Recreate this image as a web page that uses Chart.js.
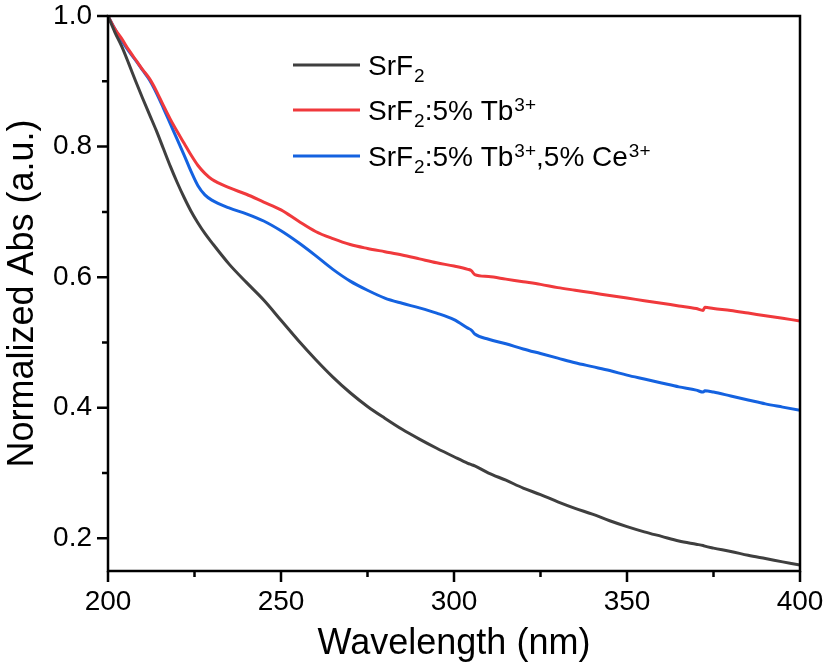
<!DOCTYPE html>
<html><head><meta charset="utf-8">
<script src="https://cdn.jsdelivr.net/npm/chart.js@4.4.1/dist/chart.umd.min.js"></script>
<style>html,body{margin:0;padding:0;background:#fff}#wrap{width:827px;height:666px;position:relative}</style>
</head><body><div id="wrap"><canvas id="c"></canvas></div>
<script>
const wavelengths=[200,202,204,206,208,210,212,214,216,218,220,222,224,226,228,230,235,240,245,250,255,260,265,270,275,280,285,290,295,300,304,305,306,310,315,320,325,330,335,340,345,350,355,360,365,370,372,372.5,375,380,385,390,395,400];
const srf2=[1.0,0.975,0.953,0.927,0.900,0.874,0.849,0.824,0.797,0.770,0.745,0.722,0.701,0.683,0.667,0.653,0.620,0.592,0.565,0.534,0.503,0.474,0.447,0.423,0.402,0.384,0.367,0.352,0.338,0.325,0.315,0.313,0.311,0.3,0.289,0.277,0.267,0.256,0.246,0.237,0.227,0.218,0.21,0.203,0.196,0.191,0.189,0.188,0.185,0.18,0.174,0.169,0.164,0.159];
const srf2Tb=[1.0,0.98,0.965,0.948,0.933,0.918,0.904,0.885,0.863,0.842,0.823,0.805,0.787,0.771,0.759,0.750,0.737,0.727,0.715,0.703,0.686,0.670,0.659,0.650,0.644,0.639,0.634,0.628,0.622,0.617,0.612,0.61,0.604,0.601,0.597,0.593,0.589,0.584,0.58,0.576,0.572,0.568,0.564,0.56,0.556,0.552,0.549,0.554,0.552,0.549,0.545,0.541,0.537,0.533];
const srf2TbCe=[1.0,0.98,0.962,0.946,0.932,0.917,0.902,0.882,0.859,0.835,0.811,0.787,0.762,0.740,0.726,0.718,0.706,0.697,0.686,0.671,0.653,0.633,0.612,0.594,0.580,0.568,0.560,0.553,0.545,0.535,0.522,0.519,0.513,0.505,0.498,0.49,0.483,0.476,0.469,0.463,0.457,0.45,0.444,0.438,0.432,0.427,0.424,0.426,0.424,0.418,0.412,0.406,0.401,0.396];
const seriesLabels=["SrF2","SrF2:5% Tb3+","SrF2:5% Tb3+,5% Ce3+"];
const legendParts=[
  [["SrF","n"],["2","sub"]],
  [["SrF","n"],["2","sub"],[":5% Tb","n"],["3+","sup"]],
  [["SrF","n"],["2","sub"],[":5% Tb","n"],["3+","sup"],[",5% Ce","n"],["3+","sup"]]
];
const seriesColors=["#3f3f3f","#f0393c","#1462e0"];
const xMajor=[200,250,300,350,400];
const xMinor=[225,275,325,375];
const yMajor=[0.2,0.4,0.6,0.8,1.0];
const yMinor=[0.3,0.5,0.7,0.9];
const xTitle="Wavelength (nm)";
const yTitle="Normalized Abs (a.u.)";

const FONT="'Liberation Sans', Arial, sans-serif";
const series=[srf2,srf2Tb,srf2TbCe];
const datasets=series.map((s,i)=>({
  label:seriesLabels[i],
  data:wavelengths.map((w,j)=>({x:w,y:s[j]})),
  borderColor:seriesColors[i],
  backgroundColor:seriesColors[i],
  borderWidth:3,pointRadius:0,showLine:true,tension:0.3,cubicInterpolationMode:'monotone',fill:false
}));

const framePlugin={
  id:'frame',
  afterDraw(chart){
    const {ctx,chartArea:a,scales}=chart;
    ctx.save();
    ctx.strokeStyle='#000';
    ctx.lineWidth=2.5;
    ctx.strokeRect(a.left,a.top,a.right-a.left,a.bottom-a.top);
    ctx.beginPath();
    xMajor.forEach(v=>{const p=scales.x.getPixelForValue(v);ctx.moveTo(p,a.bottom);ctx.lineTo(p,a.bottom+11);});
    xMinor.forEach(v=>{const p=scales.x.getPixelForValue(v);ctx.moveTo(p,a.bottom);ctx.lineTo(p,a.bottom+6);});
    yMajor.forEach(v=>{const p=scales.y.getPixelForValue(v);ctx.moveTo(a.left,p);ctx.lineTo(a.left-11,p);});
    yMinor.forEach(v=>{const p=scales.y.getPixelForValue(v);ctx.moveTo(a.left,p);ctx.lineTo(a.left-6,p);});
    ctx.stroke();
    // legend
    const lx0=293,lx1=360,tx=368,ys=[65,110,156];
    legendParts.forEach((parts,i)=>{
      const y=ys[i];
      ctx.strokeStyle=seriesColors[i];ctx.lineWidth=3;
      ctx.beginPath();ctx.moveTo(lx0,y);ctx.lineTo(lx1,y);ctx.stroke();
      let x=tx;const base=y+10;
      ctx.fillStyle='#000';ctx.textBaseline='alphabetic';ctx.textAlign='left';
      parts.forEach(([t,k])=>{
        if(k==='n'){ctx.font='28px '+FONT;ctx.fillText(t,x,base);}
        else if(k==='sub'){ctx.font='19px '+FONT;ctx.fillText(t,x+1,base+7);}
        else {ctx.font='19px '+FONT;ctx.fillText(t,x+1,base-9);}
        x+=ctx.measureText(t).width+(k==='n'?0:1);
      });
    });
    ctx.restore();
  }
};

new Chart(document.getElementById('c'),{
  type:'scatter',
  data:{datasets},
  options:{
    responsive:true,maintainAspectRatio:false,animation:false,
    layout:{padding:{left:0,top:16,right:27,bottom:0}},
    plugins:{legend:{display:false},tooltip:{enabled:false}},
    scales:{
      x:{type:'linear',min:200,max:400,
        afterBuildTicks(s){s.ticks=xMajor.map(v=>({value:v}));},
        afterFit(s){s.height=95;},
        grid:{display:false,drawTicks:true,tickLength:17},border:{display:false},
        ticks:{font:{size:28,family:FONT,lineHeight:1.0},color:'#000',padding:0,maxRotation:0,callback:v=>String(v)},
        title:{display:true,text:xTitle,font:{size:36,family:FONT},color:'#000',padding:{top:0,bottom:0}}
      },
      y:{type:'linear',min:0.15,max:1.0,
        afterBuildTicks(s){s.ticks=yMajor.map(v=>({value:v}));},
        afterFit(s){s.width=108;},
        grid:{display:false,drawTicks:true,tickLength:16},border:{display:false},
        ticks:{font:{size:28,family:FONT,lineHeight:1.0},color:'#000',padding:0,callback:v=>Number(v).toFixed(1)},
        title:{display:true,text:yTitle,font:{size:36,family:FONT},color:'#000',padding:{top:1,bottom:0}}
      }
    }
  },
  plugins:[framePlugin]
});
</script></body></html>
